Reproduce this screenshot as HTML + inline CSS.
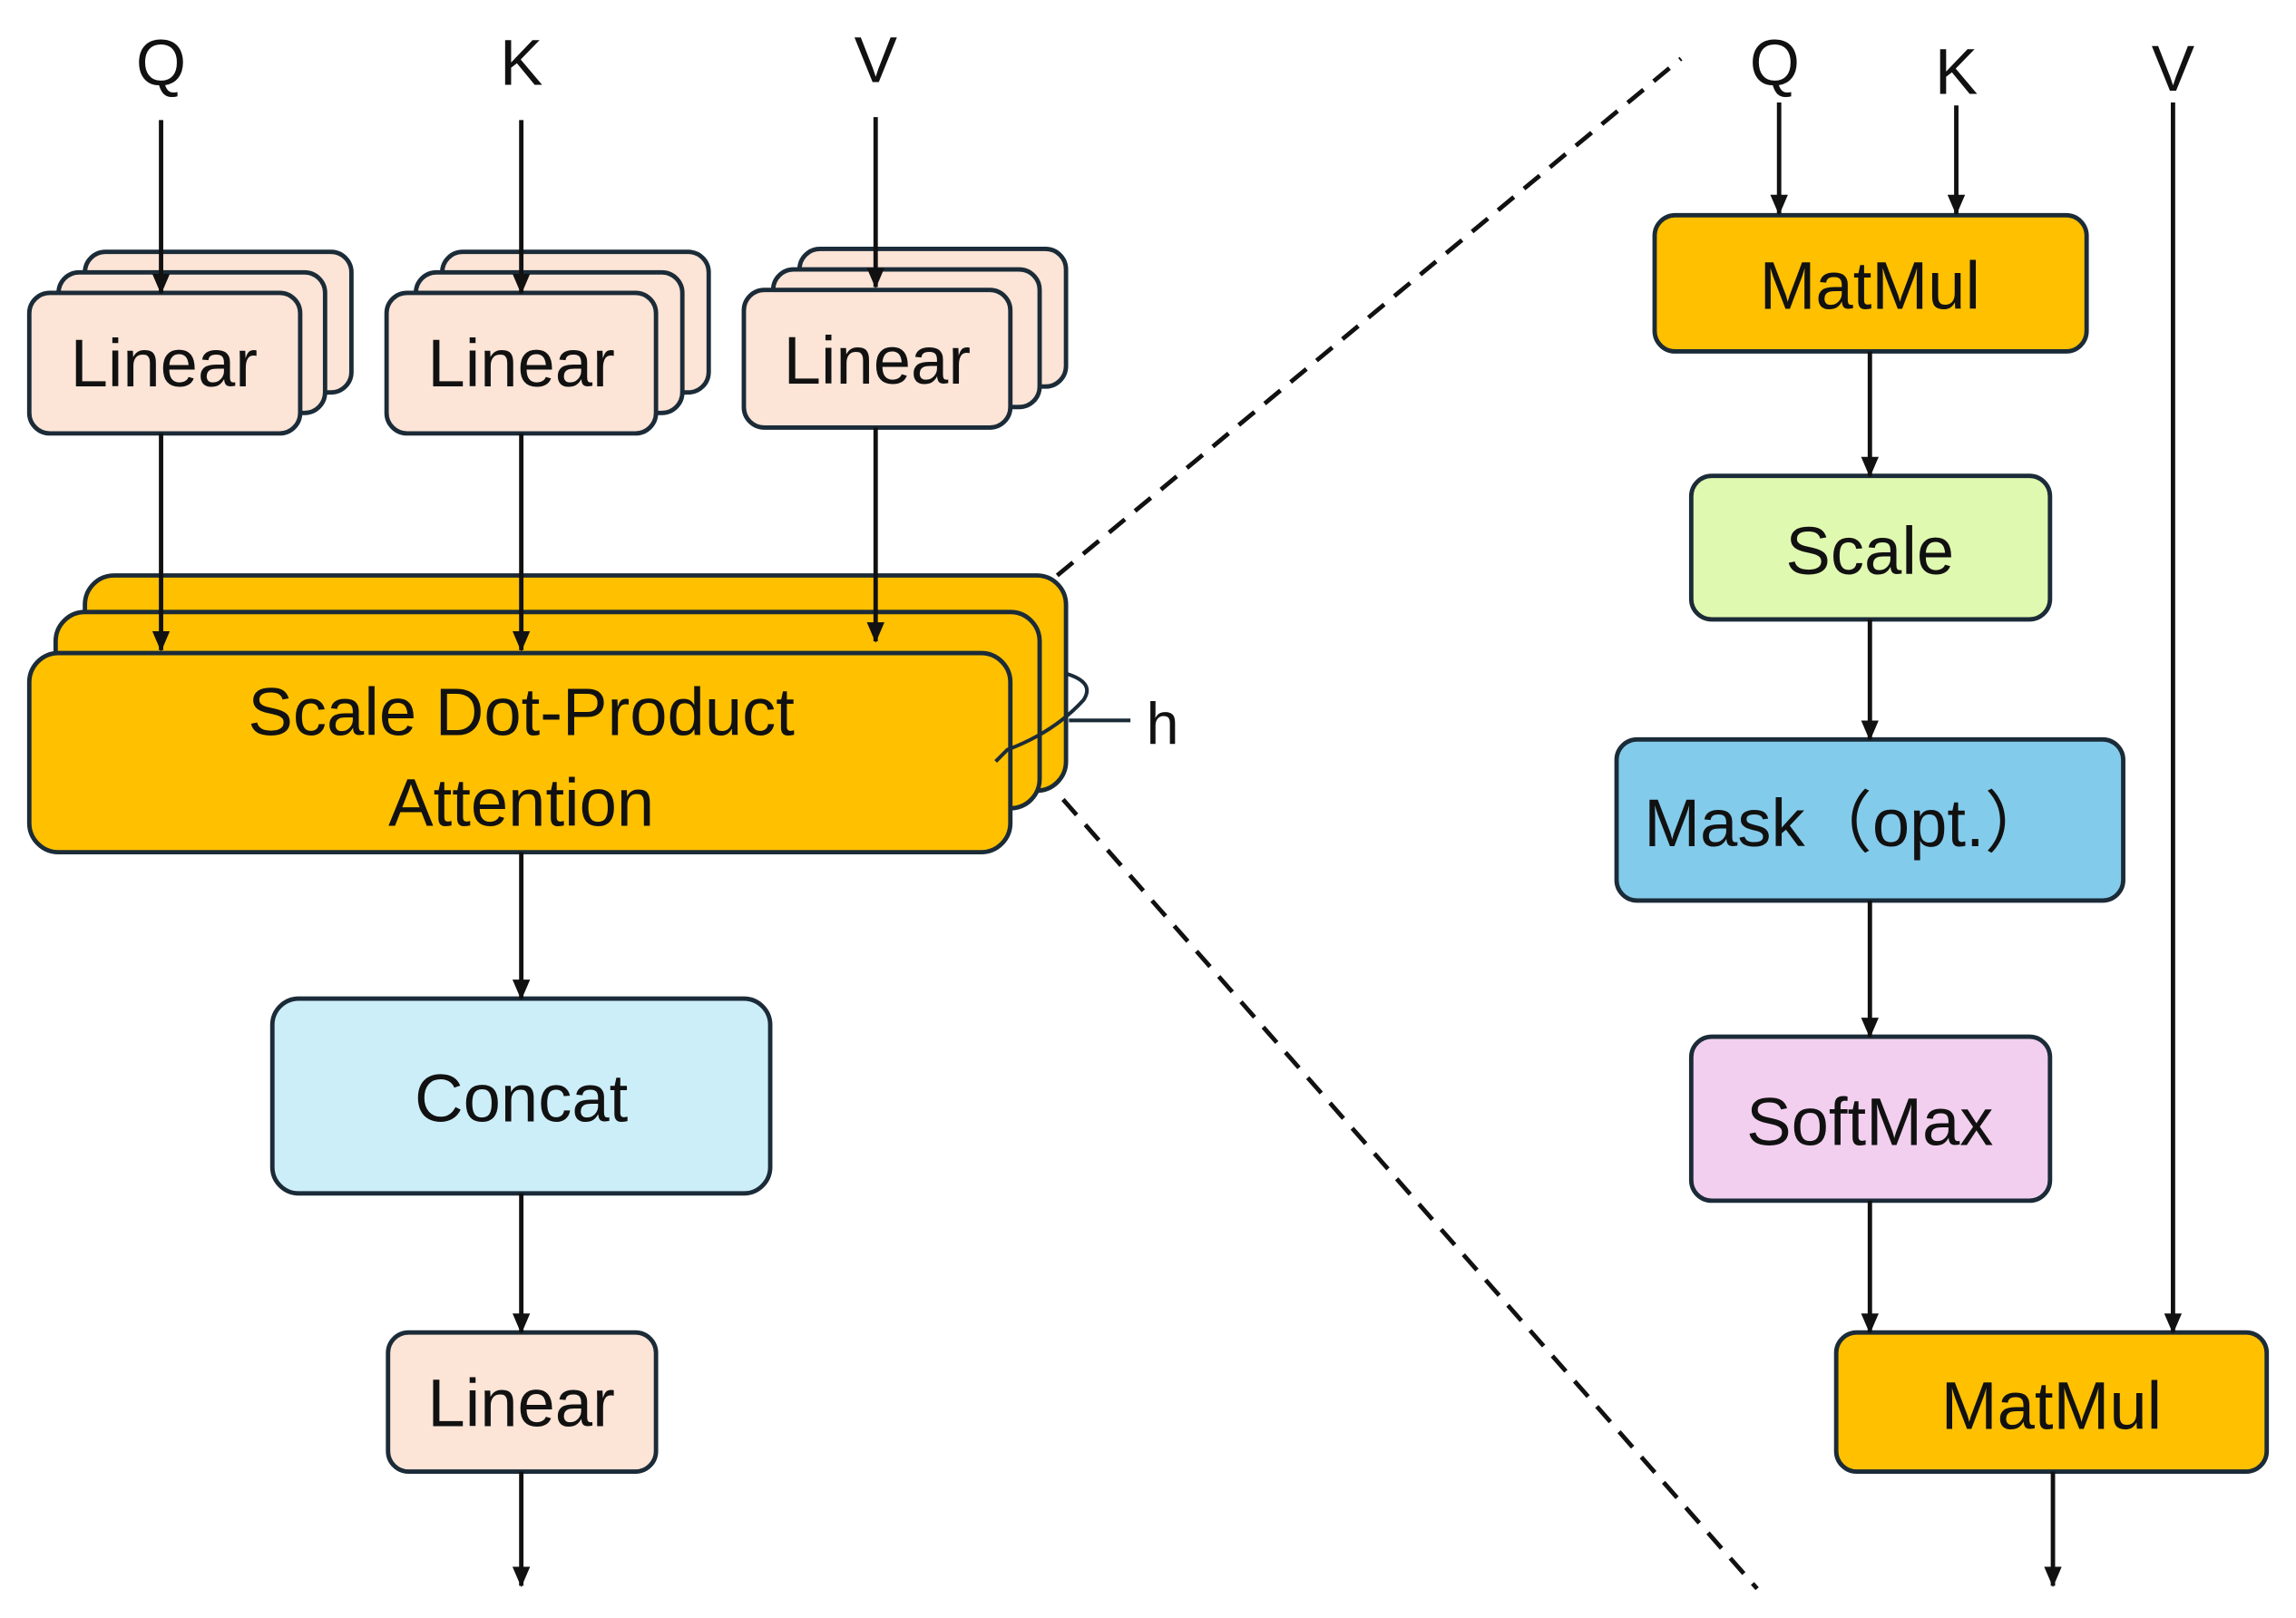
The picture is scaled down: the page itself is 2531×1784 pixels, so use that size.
<!DOCTYPE html>
<html><head><meta charset="utf-8"><style>
html,body{margin:0;padding:0;background:#fff;}
svg{display:block;}
text{font-family:"Liberation Sans","Noto Sans CJK SC",sans-serif;fill:#111;text-anchor:middle;}
</style></head><body>
<svg width="2531" height="1784" viewBox="0 0 1568 1105" preserveAspectRatio="none" xmlns="http://www.w3.org/2000/svg">
<defs>
<marker id="a" markerWidth="14" markerHeight="12" refX="13" refY="6" orient="auto" markerUnits="userSpaceOnUse">
<path d="M0,0 L14,6 L0,12 z" fill="#111"/>
</marker>
</defs>
<g stroke="#111" stroke-width="3" fill="none">
<line x1="722" y1="393" x2="1148" y2="40" stroke-dasharray="14,9"/>
<line x1="726" y1="546" x2="1200" y2="1085" stroke-dasharray="14,9"/>
</g>
<g stroke="#1b2b38" stroke-width="3">
<rect x="58" y="172" width="182" height="96" rx="14" fill="#FCE4D6"/>
<rect x="40" y="186" width="182" height="96" rx="14" fill="#FCE4D6"/>
<rect x="20" y="200" width="185" height="96" rx="14" fill="#FCE4D6"/>
<rect x="302" y="172" width="182" height="96" rx="14" fill="#FCE4D6"/>
<rect x="284" y="186" width="182" height="96" rx="14" fill="#FCE4D6"/>
<rect x="264" y="200" width="184" height="96" rx="14" fill="#FCE4D6"/>
<rect x="546" y="170" width="182" height="94" rx="14" fill="#FCE4D6"/>
<rect x="528" y="184" width="182" height="94" rx="14" fill="#FCE4D6"/>
<rect x="508" y="198" width="182" height="94" rx="14" fill="#FCE4D6"/>
<rect x="58" y="393" width="670" height="147" rx="20" fill="#FFC000"/>
<rect x="38" y="418" width="672" height="134" rx="20" fill="#FFC000"/>
<rect x="20" y="446" width="670" height="136" rx="20" fill="#FFC000"/>
<rect x="186" y="682" width="340" height="133" rx="18" fill="#CCEEF9"/>
<rect x="265" y="910" width="183" height="95" rx="14" fill="#FCE4D6"/>
<rect x="1130" y="147" width="295" height="93" rx="14" fill="#FFC000"/>
<rect x="1155" y="325" width="245" height="98" rx="14" fill="#E0F9B0"/>
<rect x="1104" y="505" width="346" height="110" rx="14" fill="#83CBEB"/>
<rect x="1155" y="708" width="245" height="112" rx="14" fill="#F2CFEE"/>
<rect x="1254" y="910" width="294" height="95" rx="14" fill="#FFC000"/>
</g>
<g stroke="#1b2b38" stroke-width="2.5" fill="none">
<path d="M728,460 Q748,466 740,478 Q720,500 688,512 L680,520"/>
<line x1="730" y1="492" x2="772" y2="492"/>
</g>
<g stroke="#111" stroke-width="3" marker-end="url(#a)">
<line x1="110" y1="82" x2="110" y2="200"/>
<line x1="356" y1="82" x2="356" y2="200"/>
<line x1="598" y1="80" x2="598" y2="196"/>
<line x1="110" y1="296" x2="110" y2="444"/>
<line x1="356" y1="296" x2="356" y2="444"/>
<line x1="598" y1="292" x2="598" y2="438"/>
<line x1="356" y1="582" x2="356" y2="682"/>
<line x1="356" y1="815" x2="356" y2="910"/>
<line x1="356" y1="1005" x2="356" y2="1083"/>
<line x1="1215" y1="70" x2="1215" y2="146"/>
<line x1="1336" y1="72" x2="1336" y2="146"/>
<line x1="1484" y1="70" x2="1484" y2="910"/>
<line x1="1277" y1="240" x2="1277" y2="325"/>
<line x1="1277" y1="423" x2="1277" y2="505"/>
<line x1="1277" y1="615" x2="1277" y2="708"/>
<line x1="1277" y1="820" x2="1277" y2="910"/>
<line x1="1402" y1="1005" x2="1402" y2="1083"/>
</g>
<g font-size="44">
<text x="110" y="58">Q</text>
<text x="356" y="58">K</text>
<text x="598" y="56">V</text>
<text x="1212" y="58">Q</text>
<text x="1336" y="64">K</text>
<text x="1484" y="62">V</text>
<text x="794" y="508" font-size="40">h</text>
</g>
<g font-size="46">
<text x="112" y="264">Linear</text>
<text x="356" y="264">Linear</text>
<text x="599" y="262">Linear</text>
<text x="356" y="502">Scale Dot-Product</text>
<text x="356" y="564">Attention</text>
<text x="356" y="766">Concat</text>
<text x="356" y="974">Linear</text>
<text x="1277" y="211">MatMul</text>
<text x="1277" y="392">Scale</text>
<text x="1262" y="578">Mask（opt.）</text>
<text x="1277" y="782">SoftMax</text>
<text x="1401" y="976">MatMul</text>
</g>
</svg>
</body></html>
